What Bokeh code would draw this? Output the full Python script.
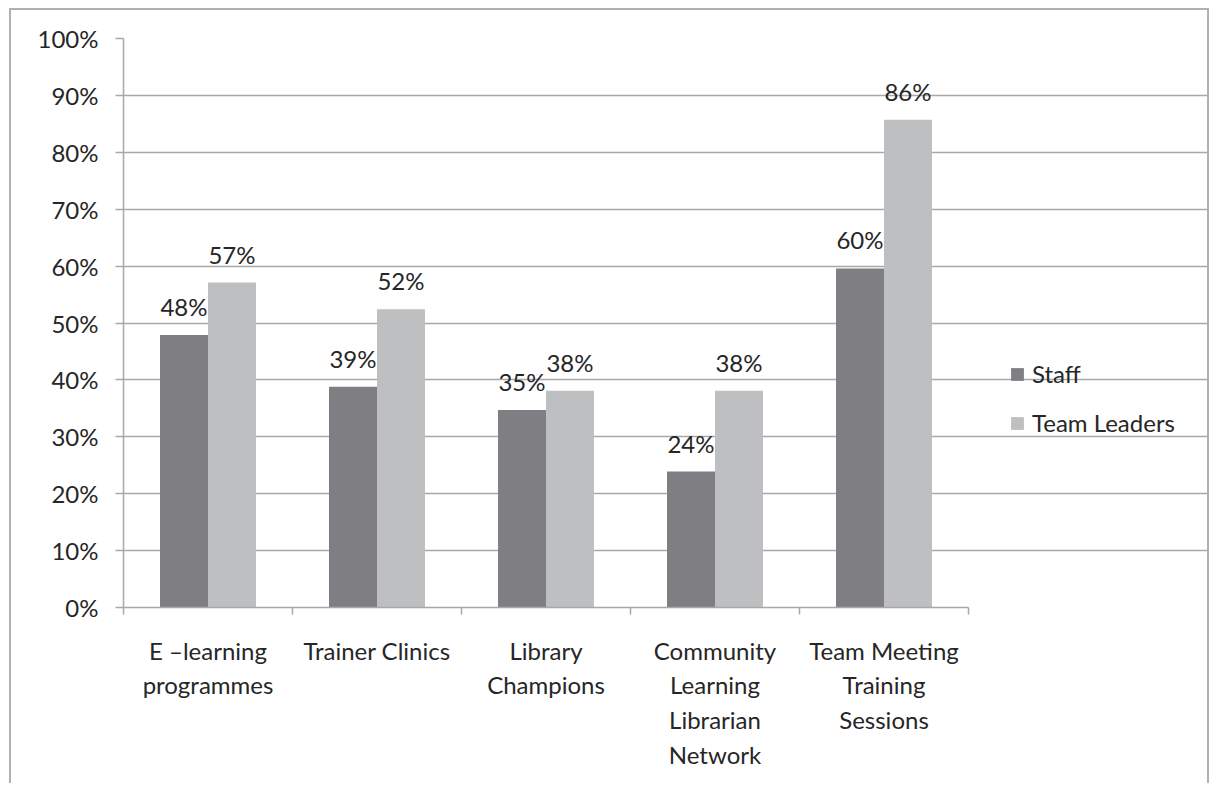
from bokeh.plotting import figure
from bokeh.models import (ColumnDataSource, Range1d, FixedTicker, PrintfTickFormatter,
                          LabelSet, Legend, LegendItem)
from bokeh.core.properties import value
from bokeh.transform import dodge
from bokeh.embed import file_html
from bokeh.resources import INLINE

categories = ["E \u2013learning\nprogrammes", "Trainer Clinics", "Library\nChampions",
              "Community\nLearning\nLibrarian\nNetwork", "Team Meeting\nTraining\nSessions"]
staff = [47.9, 38.8, 34.7, 23.9, 59.6]
team_leaders = [57.1, 52.4, 38.1, 38.1, 85.7]
y_ticks = [0, 10, 20, 30, 40, 50, 60, 70, 80, 90, 100]

FONT = "Lato"
TXT = "#262626"
GRID = "#a8a8a8"
STAFF_C = "#7f7f83"
TL_C = "#bebfc1"
FS = "24px"

n = len(categories)
pos = [i + 0.5 for i in range(n)]
src = ColumnDataSource(dict(
    x=pos, staff=staff, tl=team_leaders,
    staff_lbl=[f"{round(v)}%" for v in staff],
    tl_lbl=[f"{round(v)}%" for v in team_leaders],
))

W, H = 1200, 775
LEFT, TOP, BOTTOM = 112, 28, H - 597
frame_w = W - LEFT          # frame runs to the right edge (legend lives there)
axis_w = 845                # pixel width of the category area
x_end = n * frame_w / axis_w

p = figure(width=W, height=H, output_backend="svg", toolbar_location=None,
           x_range=Range1d(0, x_end), y_range=Range1d(0, 100),
           min_border_left=LEFT, min_border_top=TOP, min_border_right=0,
           min_border_bottom=BOTTOM)
p.styles = {"border-left": "2px solid #b0b0b0", "border-top": "2px solid #b0b0b0",
            "border-right": "2px solid #b0b0b0", "margin-left": "9px", "margin-top": "8px"}
p.outline_line_color = None
p.background_fill_color = "white"
p.border_fill_color = "white"

bw = 0.284
r1 = p.vbar(x=dodge("x", -bw / 2, range=p.x_range), top="staff", width=bw, source=src,
            fill_color=STAFF_C, line_color=None)
r2 = p.vbar(x=dodge("x", bw / 2, range=p.x_range), top="tl", width=bw, source=src,
            fill_color=TL_C, line_color=None)

for col, lbl, off in (("staff", "staff_lbl", -bw / 2), ("tl", "tl_lbl", bw / 2)):
    ls = LabelSet(x=dodge("x", off, range=p.x_range), y=col, text=lbl, source=src,
                  text_align="center", text_baseline="alphabetic", y_offset=19,
                  text_font=value(FONT), text_font_size=value(FS), text_color=TXT)
    p.add_layout(ls)

# x axis
xa = p.xaxis[0]
xa.bounds = (0, n)
xa.ticker = FixedTicker(ticks=pos, minor_ticks=list(range(n + 1)))
xa.major_label_overrides = {pos[i]: categories[i] for i in range(n)}
xa.major_tick_line_color = None
xa.major_tick_out = 0
xa.major_tick_in = 0
xa.minor_tick_out = 7
xa.minor_tick_in = 0
xa.minor_tick_line_color = GRID
xa.minor_tick_line_width = 1.5
xa.axis_line_color = GRID
xa.axis_line_width = 1.5
xa.major_label_standoff = 21
xa.major_label_text_font = FONT
xa.major_label_text_font_size = FS
xa.major_label_text_color = TXT
xa.major_label_text_line_height = 1.2

# y axis
ya = p.yaxis[0]
ya.ticker = FixedTicker(ticks=y_ticks)
ya.formatter = PrintfTickFormatter(format="%d%%")
ya.major_tick_out = 8
ya.major_tick_in = 0
ya.minor_tick_line_color = None
ya.major_tick_line_color = GRID
ya.major_tick_line_width = 1.5
ya.axis_line_color = GRID
ya.axis_line_width = 1.5
ya.major_label_standoff = 17
ya.major_label_text_font = FONT
ya.major_label_text_font_size = FS
ya.major_label_text_color = TXT

p.xgrid.grid_line_color = None
p.ygrid.ticker = FixedTicker(ticks=y_ticks)
p.ygrid.bounds = (0, n)
p.ygrid.grid_line_color = GRID
p.ygrid.grid_line_width = 1.5

legend = Legend(items=[LegendItem(label="Staff", renderers=[r1]),
                       LegendItem(label="Team Leaders", renderers=[r2])],
                location=(886, 170), orientation="vertical", margin=0,
                glyph_width=16, glyph_height=16, spacing=20, padding=10,
                label_text_font=FONT, label_text_font_size=FS, label_text_color=TXT,
                label_standoff=7, border_line_color=None, background_fill_alpha=0)
p.add_layout(legend, "center")

open("out.html", "w").write(file_html(p, INLINE))
